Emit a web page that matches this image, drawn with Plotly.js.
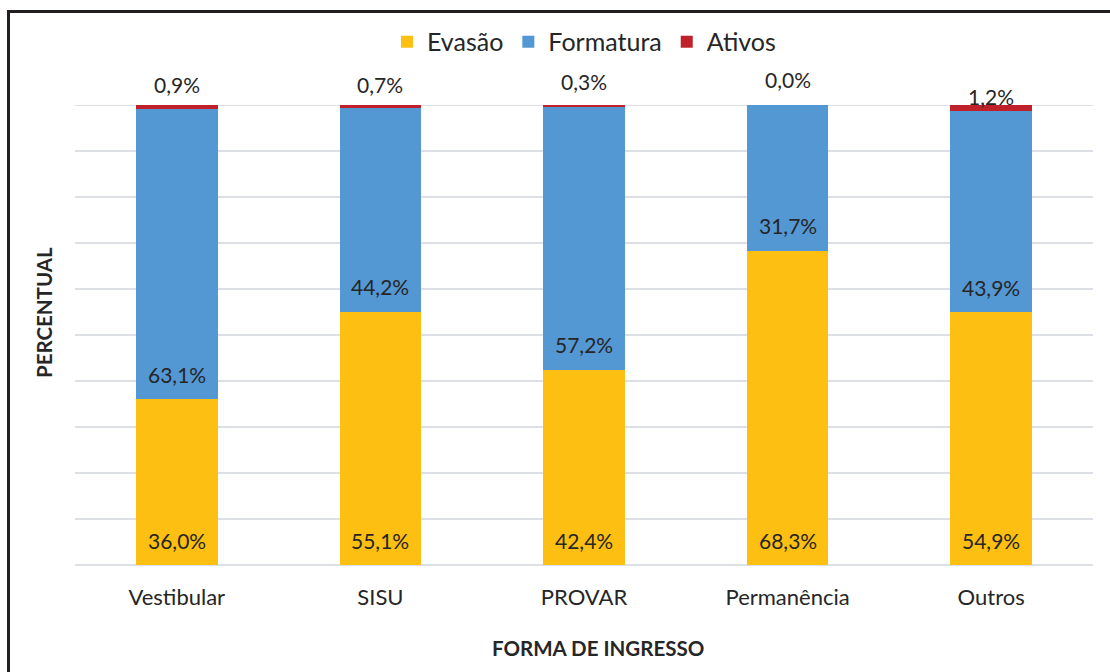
<!DOCTYPE html>
<html>
<head>
<meta charset="utf-8">
<script src="https://cdn.plot.ly/plotly-3.0.1.min.js"></script>
<style>
  html, body { margin: 0; padding: 0; background: #fff; }
  #wrap { position: relative; width: 1110px; height: 672px; overflow: hidden; }
  #frame { position: absolute; left: 7px; top: 10px; width: 1200px; height: 800px;
           border-top: 3px solid #231f20; border-left: 3px solid #231f20; pointer-events: none; z-index: 5; }
  #chart { position: absolute; left: 0; top: 0; width: 1110px; height: 672px; }
</style>
</head>
<body>
<div id="wrap">
  <div id="chart"></div>
  <div id="frame"></div>
</div>
<script>
// ---- data ----
const categories = ["Vestibular", "SISU", "PROVAR", "Permanência", "Outros"];
const evasao     = [36.0, 55.1, 42.4, 68.3, 54.9];
const formatura  = [63.1, 44.2, 57.2, 31.7, 43.9];
const ativos     = [0.9, 0.7, 0.3, 0.0, 1.2];
const seriesNames = ["Evasão", "Formatura", "Ativos"];
const gridValues = [10, 20, 30, 40, 50, 60, 70, 80, 90, 100];

// ---- style ----
const FONT = "Lato, 'Open Sans', sans-serif";
const TXT = "#262626";
const GRID = "#DCE0E6";
const COLORS = ["#FDBF11", "#5397D3", "#C0202A"];
const LABEL_SIZE = 21;
const ATIVOS_SHIFT_DEFAULT = 21;
const ATIVOS_SHIFT = { "Outros": 9, "PROVAR": 24, "Permanência": 26 };

const fmt = v => v.toFixed(1).replace(".", ",") + "%";
const round1 = v => Math.round(v * 10) / 10;

const series = [evasao, formatura, ativos];
const traces = series.map((vals, i) => ({
  type: "bar",
  name: seriesNames[i],
  x: categories,
  y: vals,
  marker: { color: COLORS[i], line: { width: 0 } },
  hoverinfo: "skip"
}));

const annotations = [];
categories.forEach((c, j) => {
  annotations.push({ x: c, y: 0, xref: "x", yref: "y", text: fmt(evasao[j]),
    showarrow: false, yanchor: "middle", yshift: 25,
    font: { family: FONT, size: LABEL_SIZE, color: TXT } });
  annotations.push({ x: c, y: evasao[j], xref: "x", yref: "y", text: fmt(formatura[j]),
    showarrow: false, yanchor: "middle", yshift: 25,
    font: { family: FONT, size: LABEL_SIZE, color: TXT } });
  const top = Math.min(round1(evasao[j] + formatura[j] + ativos[j]), 100);
  annotations.push({ x: c, y: top, xref: "x", yref: "y", text: fmt(ativos[j]),
    showarrow: false, yanchor: "middle",
    yshift: (ATIVOS_SHIFT[c] !== undefined ? ATIVOS_SHIFT[c] : ATIVOS_SHIFT_DEFAULT),
    font: { family: FONT, size: LABEL_SIZE, color: TXT } });
});

annotations.push({ xref: "paper", yref: "paper", x: 0.514, y: 0, yshift: -83, xanchor: "center",
  yanchor: "middle", showarrow: false, text: "<b>FORMA DE INGRESSO</b>",
  font: { family: FONT, size: 20.5, color: TXT } });
annotations.push({ xref: "paper", yref: "paper", x: 0, xshift: -31, y: 0.5, yshift: 22, textangle: -90,
  xanchor: "center", yanchor: "middle", showarrow: false, text: "<b>PERCENTUAL</b>",
  font: { family: FONT, size: 20.5, color: TXT } });

// top grid line (plotly omits the one on the range edge)
const shapes = [{ type: "line", xref: "paper", yref: "y", x0: 0, x1: 1,
  y0: gridValues[gridValues.length - 1], y1: gridValues[gridValues.length - 1],
  line: { color: GRID, width: 2 }, layer: "below" }];

const layout = {
  width: 1110, height: 672,
  margin: { l: 75, r: 17, t: 105, b: 107 },
  paper_bgcolor: "#ffffff", plot_bgcolor: "#ffffff",
  barmode: "stack",
  bargap: 0.6,
  font: { family: FONT, color: TXT },
  showlegend: true,
  legend: { orientation: "h", x: 0.5, xanchor: "center", y: 1.137, yanchor: "middle", yref: "paper",
            font: { family: FONT, size: 25, color: TXT }, traceorder: "normal", itemclick: false },
  xaxis: {
    type: "category", showgrid: false, zeroline: false, showline: false, ticks: "",
    tickfont: { family: FONT, size: 22, color: TXT }, ticklabelstandoff: 17, fixedrange: true
  },
  yaxis: {
    range: [0, 100], tickvals: gridValues, showticklabels: false, ticks: "",
    showgrid: true, gridcolor: GRID, gridwidth: 2,
    zeroline: true, zerolinecolor: GRID, zerolinewidth: 2, showline: false, fixedrange: true
  },
  shapes: shapes,
  annotations: annotations
};

Plotly.newPlot("chart", traces, layout, { displayModeBar: false, staticPlot: true });
</script>
</body>
</html>
